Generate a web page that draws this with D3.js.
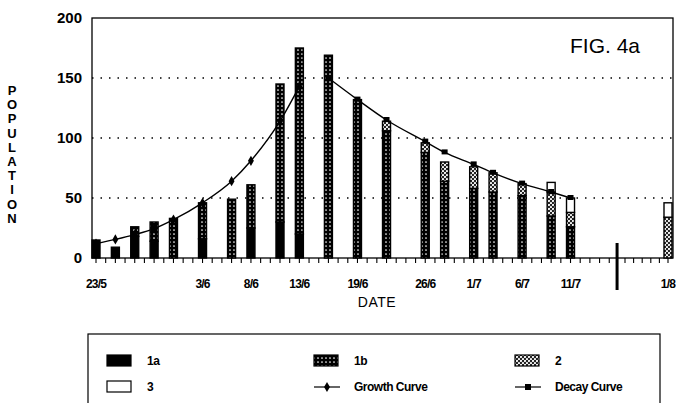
<!DOCTYPE html>
<meta charset='utf-8'>
<html>
<head>
<script src="https://d3js.org/d3.v7.min.js" charset="utf-8"></script>
<style>
  body { margin: 0; background: #fff; }
  text { font-family: "Liberation Sans", Arial, sans-serif; fill: #000; }
</style>
</head>
<body>
<div id="chart-container"></div>
<script>
// bar dates (days after 23/5 come from the date string)
const barDates = ['23/5','25/5','27/5','29/5','31/5','3/6','6/6','8/6','11/6','13/6','16/6',
                  '19/6','22/6','26/6','28/6','1/7','3/7','6/7','9/7','11/7','1/8'];
// stacked series values
const s1a = [15, 9, 18, 14, 0, 16, 0, 25, 30, 20, 0, 0, 0, 0, 0, 0, 0, 0, 0, 0, 0];
const s1b = [0, 0, 8, 16, 33, 30, 49, 36, 115, 155, 169, 132, 106, 88, 64, 58, 55, 52, 35, 26, 0];
const s2  = [0, 0, 0, 0, 0, 0, 0, 0, 0, 0, 0, 0, 8, 8, 16, 18, 16, 10, 20, 12, 34];
const s3  = [0, 0, 0, 0, 0, 0, 0, 0, 0, 0, 0, 0, 0, 0, 0, 0, 0, 0, 8, 12, 12];

// curves
const growthDates = ['23/5','25/5','27/5','29/5','31/5','3/6','6/6','8/6','11/6','13/6'];
const growthVals  = [12, 15.5, 19.5, 24.5, 32, 46, 64, 81, 114, 143];
const decayDates  = ['16/6','19/6','22/6','26/6','28/6','1/7','3/7','6/7','9/7','11/7'];
const decayVals   = [150, 132, 115, 97, 88, 78, 71, 62, 55, 50];

// axis labels
const xTickLabels = ['23/5','3/6','8/6','13/6','19/6','26/6','1/7','6/7','11/7','1/8'];
const yTickValues = [0, 50, 100, 150, 200];
const gridValues = [50, 100, 150];
const breakDay = 53.8;   // axis is broken between mid July and 1/8
const resumeDay = 65;

const seriesKeys = ['1a', '1b', '2', '3'];
const seriesVals = [s1a, s1b, s2, s3];

const parse = d3.timeParse('%d/%m/%Y');
const start = parse('23/5/1990');
const dayOf = s => Math.round((parse(s + '/1990') - start) / 86400000);

const svgWidth = 676, svgHeight = 403;
const margin = {top: 18, left: 92, right: 3, bottom: 145};
const h = svgHeight - margin.top - margin.bottom;   // 240

const svg = d3.select('#chart-container').append('svg')
  .attr('width', svgWidth).attr('height', svgHeight);
svg.append('rect').attr('width', svgWidth).attr('height', svgHeight).attr('fill', '#fff');

// patterns: 1b = black with white dots, 2 = dark grey speckle
const defs = svg.append('defs');
const p1b = defs.append('pattern').attr('id', 'p1b').attr('patternUnits', 'userSpaceOnUse')
  .attr('width', 4).attr('height', 4);
p1b.append('rect').attr('width', 4).attr('height', 4).attr('fill', '#000');
p1b.append('circle').attr('cx', 2).attr('cy', 2).attr('r', 0.85).attr('fill', '#fff');
const p2 = defs.append('pattern').attr('id', 'p2').attr('patternUnits', 'userSpaceOnUse')
  .attr('width', 4).attr('height', 4);
p2.append('rect').attr('width', 4).attr('height', 4).attr('fill', '#222');
p2.append('circle').attr('cx', 1).attr('cy', 1).attr('r', 1.1).attr('fill', '#fff');
p2.append('circle').attr('cx', 3).attr('cy', 3).attr('r', 1.1).attr('fill', '#fff');
const fills = {'1a': '#000', '1b': 'url(#p1b)', '2': 'url(#p2)', '3': '#fff'};

// scales
const xScale = d3.scaleLinear()
  .domain([0, breakDay, resumeDay, 70])
  .range([96, 617, 625, 668]);
const yScale = d3.scaleLinear().domain([0, 200]).range([margin.top + h, margin.top]);
const y0 = yScale(0);

// gridlines
svg.append('g').selectAll('line').data(gridValues).enter().append('line')
  .attr('x1', margin.left).attr('x2', svgWidth - margin.right)
  .attr('y1', d => yScale(d)).attr('y2', d => yScale(d))
  .attr('stroke', '#000').attr('stroke-width', 1.5).attr('stroke-dasharray', '1.5,7');

// frame
svg.append('rect').attr('x', margin.left).attr('y', margin.top)
  .attr('width', svgWidth - margin.right - margin.left).attr('height', h)
  .attr('fill', 'none').attr('stroke', '#000').attr('stroke-width', 1.3);

// stacked bars
const rows = barDates.map((d, i) => {
  const r = {date: d};
  seriesKeys.forEach((k, j) => r[k] = seriesVals[j][i]);
  return r;
});
const stacked = d3.stack().keys(seriesKeys)(rows);
const bw = 8;
svg.append('g').selectAll('g').data(stacked).enter().append('g')
  .attr('fill', d => fills[d.key])
  .selectAll('rect').data(d => d.filter(p => p[1] > p[0])).enter().append('rect')
  .attr('x', d => xScale(dayOf(d.data.date)) - bw / 2)
  .attr('y', d => yScale(d[1]))
  .attr('width', bw)
  .attr('height', d => yScale(d[0]) - yScale(d[1]))
  .attr('stroke', '#000').attr('stroke-width', 1.4);

// curves
const line = d3.line().curve(d3.curveMonotoneX)
  .x(d => xScale(dayOf(d[0]))).y(d => yScale(d[1]));
const growth = growthDates.map((d, i) => [d, growthVals[i]]);
const decay = decayDates.map((d, i) => [d, decayVals[i]]);
svg.append('path').datum(growth).attr('d', line)
  .attr('fill', 'none').attr('stroke', '#000').attr('stroke-width', 1.4);
svg.append('path').datum(decay).attr('d', line)
  .attr('fill', 'none').attr('stroke', '#000').attr('stroke-width', 1.4);
svg.append('g').selectAll('path').data(growth).enter().append('path')
  .attr('d', d3.symbol().type(d3.symbolDiamond).size(30))
  .attr('transform', d => 'translate(' + xScale(dayOf(d[0])) + ',' + yScale(d[1]) + ')')
  .attr('fill', '#000');
svg.append('g').selectAll('rect').data(decay).enter().append('rect')
  .attr('x', d => xScale(dayOf(d[0])) - 3).attr('y', d => yScale(d[1]) - 3)
  .attr('width', 6).attr('height', 5).attr('fill', '#000');

// x ticks: every day, skipping the break
const dayTicks = d3.range(0, 71).filter(d => d <= breakDay || d >= resumeDay);
svg.append('g').selectAll('line').data(dayTicks).enter().append('line')
  .attr('x1', d => xScale(d)).attr('x2', d => xScale(d))
  .attr('y1', y0).attr('y2', y0 + 5)
  .attr('stroke', '#000').attr('stroke-width', 1.1);
// axis break mark
svg.append('line').attr('x1', xScale(breakDay + 0.1)).attr('x2', xScale(breakDay + 0.1))
  .attr('y1', y0 - 15).attr('y2', y0 + 32)
  .attr('stroke', '#000').attr('stroke-width', 3);

svg.append('g').selectAll('text').data(xTickLabels).enter().append('text')
  .attr('x', d => xScale(dayOf(d))).attr('y', y0 + 30)
  .attr('text-anchor', 'middle').attr('font-size', 12).attr('font-weight', 'bold')
  .attr('letter-spacing', -0.8)
  .text(d => d);

// y tick labels
svg.append('g').selectAll('text').data(yTickValues).enter().append('text')
  .attr('x', 82).attr('y', d => yScale(d) + 5)
  .attr('text-anchor', 'end').attr('font-size', 15).attr('font-weight', 'bold')
  .text(d => d);

// axis titles
const yTitle = 'POPULATION'.split('');
svg.append('g').selectAll('text').data(yTitle).enter().append('text')
  .attr('x', 12).attr('y', (d, i) => 95 + i * 14.2)
  .attr('text-anchor', 'middle').attr('font-size', 13).attr('font-weight', 'bold')
  .text(d => d);
svg.append('text').attr('x', 377).attr('y', 307).attr('text-anchor', 'middle')
  .attr('font-size', 14).attr('letter-spacing', 0.5).text('DATE');
svg.append('text').attr('x', 605).attr('y', 53).attr('text-anchor', 'middle')
  .attr('font-size', 21).text('FIG. 4a');

// legend
const legend = svg.append('g');
legend.append('rect').attr('x', 88).attr('y', 334).attr('width', 572).attr('height', 90)
  .attr('fill', 'none').attr('stroke', '#000').attr('stroke-width', 1.2);
const legItems = [
  {label: '1a', kind: 'bar', key: '1a'}, {label: '1b', kind: 'bar', key: '1b'}, {label: '2', kind: 'bar', key: '2'},
  {label: '3', kind: 'bar', key: '3'}, {label: 'Growth Curve', kind: 'growth'}, {label: 'Decay Curve', kind: 'decay'}
];
const colX = [107, 314, 515], rowY = [361, 387];
legItems.forEach((it, i) => {
  const x = colX[i % 3], y = rowY[Math.floor(i / 3)];
  if (it.kind === 'bar') {
    legend.append('rect').attr('x', x).attr('y', y - 6).attr('width', 24).attr('height', 11)
      .attr('fill', fills[it.key]).attr('stroke', '#000').attr('stroke-width', 1.2);
  } else {
    legend.append('line').attr('x1', x).attr('x2', x + 26).attr('y1', y).attr('y2', y)
      .attr('stroke', '#000').attr('stroke-width', 1.2);
    if (it.kind === 'growth') {
      legend.append('path').attr('d', d3.symbol().type(d3.symbolDiamond).size(30))
        .attr('transform', 'translate(' + (x + 13) + ',' + y + ')');
    } else {
      legend.append('rect').attr('x', x + 10).attr('y', y - 3).attr('width', 6).attr('height', 6);
    }
  }
  legend.append('text').attr('x', x + 40).attr('y', y + 4).attr('font-size', 12)
    .attr('font-weight', 'bold').attr('letter-spacing', -0.5).text(it.label);
});
</script>
</body>
</html>
